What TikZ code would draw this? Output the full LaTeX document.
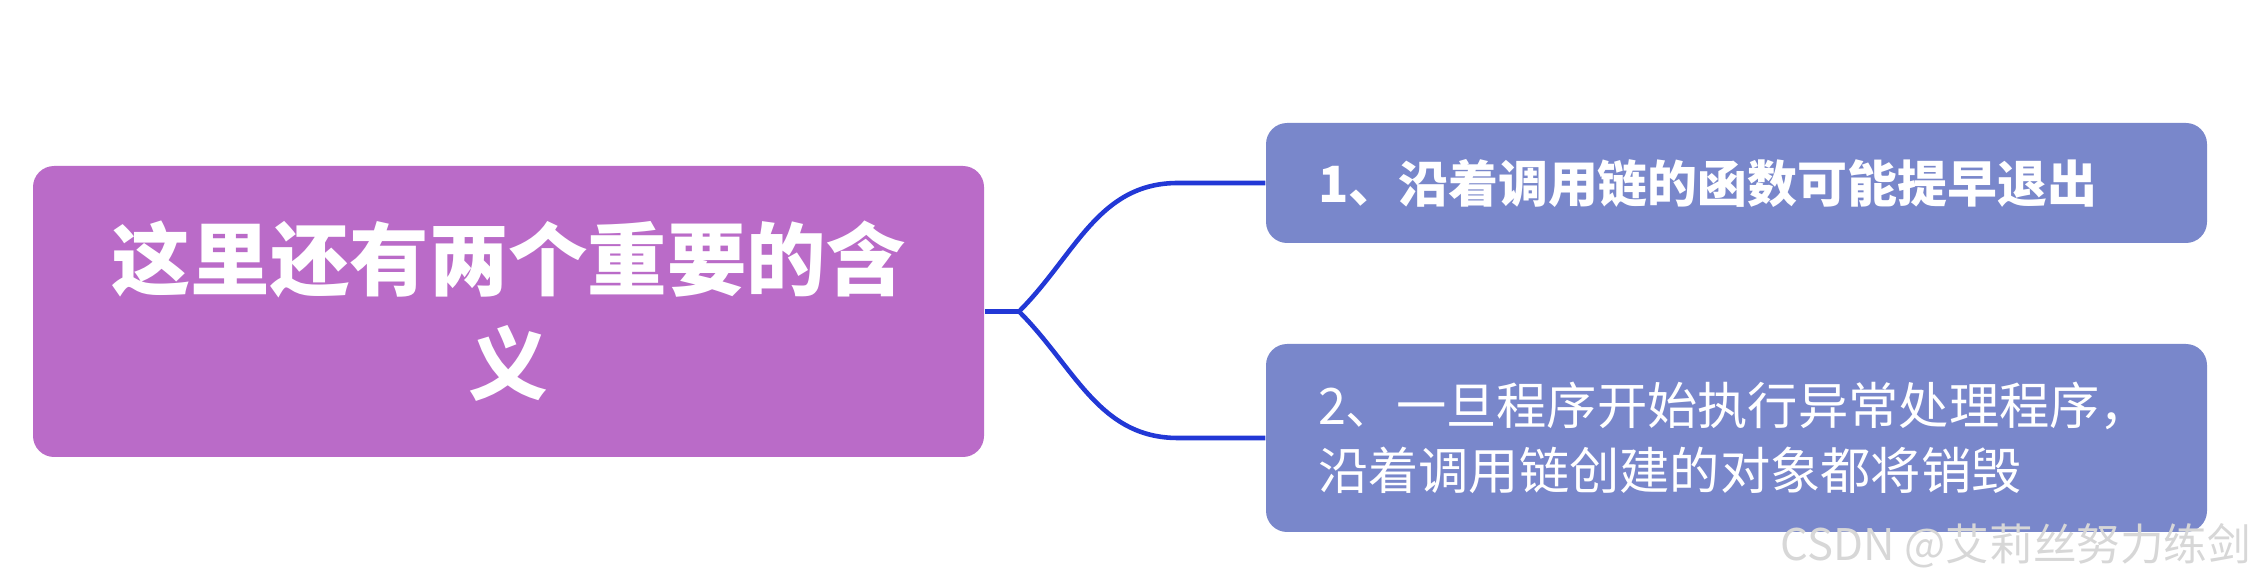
\documentclass[tikz,border=0pt]{standalone}
\usepackage{fontspec}
\setmainfont{Noto Sans CJK SC}
\usetikzlibrary{positioning, calc}
\definecolor{clrMain}{RGB}{186,107,200}
\definecolor{clrSub} {RGB}{121,135,203}
\definecolor{clrLink}{RGB}{ 34, 56,214}
\definecolor{clrMark}{RGB}{215,215,215}

\begin{document}
\begin{tikzpicture}[
  %% ── node styles ──────────────────────────────────────────────────────────
  topic/.style = {rectangle, rounded corners=6pt,
                  minimum width=9.51cm, minimum height=2.91cm,
                  align=center, inner sep=0pt, fill=clrMain, text=white,
                  font=\fontsize{22.6}{29.6}\selectfont\bfseries},
  leaf/.style  = {rectangle, rounded corners=6pt,
                  minimum width=9.41cm, text width=8.37cm, align=left,
                  inner xsep=0.52cm, inner ysep=0pt, fill=clrSub,
                  text=white, font=\fontsize{14.3}{18.5}\selectfont},
  %% ── connector / label styles ─────────────────────────────────────────────
  link/.style  = {line width=1.3pt, color=clrLink},
  wmark/.style = {font=\fontsize{12.4}{15}\selectfont, text=clrMark},
]
\useasboundingbox (0,0) rectangle (22.66,-5.87);

%% ═══════════════════════════════════════════════════════════════════════════
%% LEFT: central topic
%% ═══════════════════════════════════════════════════════════════════════════
\node[topic] (main) at (5.085,-3.115) {这里还有两个重要的含\\义};

%% ═══════════════════════════════════════════════════════════════════════════
%% RIGHT: the two branches
%% ═══════════════════════════════════════════════════════════════════════════
\node[leaf, minimum height=1.20cm, font=\fontsize{14.2}{18.5}\selectfont\bfseries]
      (one) at (17.365,-1.83) {1、沿着调用链的函数可能提早退出};
\node[leaf, minimum height=1.88cm]
      (two) at (17.365,-4.38) {2、一旦程序开始执行异常处理程序，\\沿着调用链创建的对象都将销毁};

%% ── fork and bend points ──────────────────────────────────────────────────
\coordinate (fork)  at (10.19,-3.115);
\coordinate (bendA) at (11.78,-1.83);
\coordinate (bendB) at (11.78,-4.38);

%% ── connectors ────────────────────────────────────────────────────────────
\draw[link] (main.east) -- (fork);
\draw[link] (fork) to[out=45,in=180]  (bendA) -- (one.west);
\draw[link] (fork) to[out=-45,in=180] (bendB) -- (two.west);

%% ── watermark ─────────────────────────────────────────────────────────────
\node[wmark] (wm) at (20.16,-5.46) {CSDN @艾莉丝努力练剑};

\end{tikzpicture}
\end{document}
